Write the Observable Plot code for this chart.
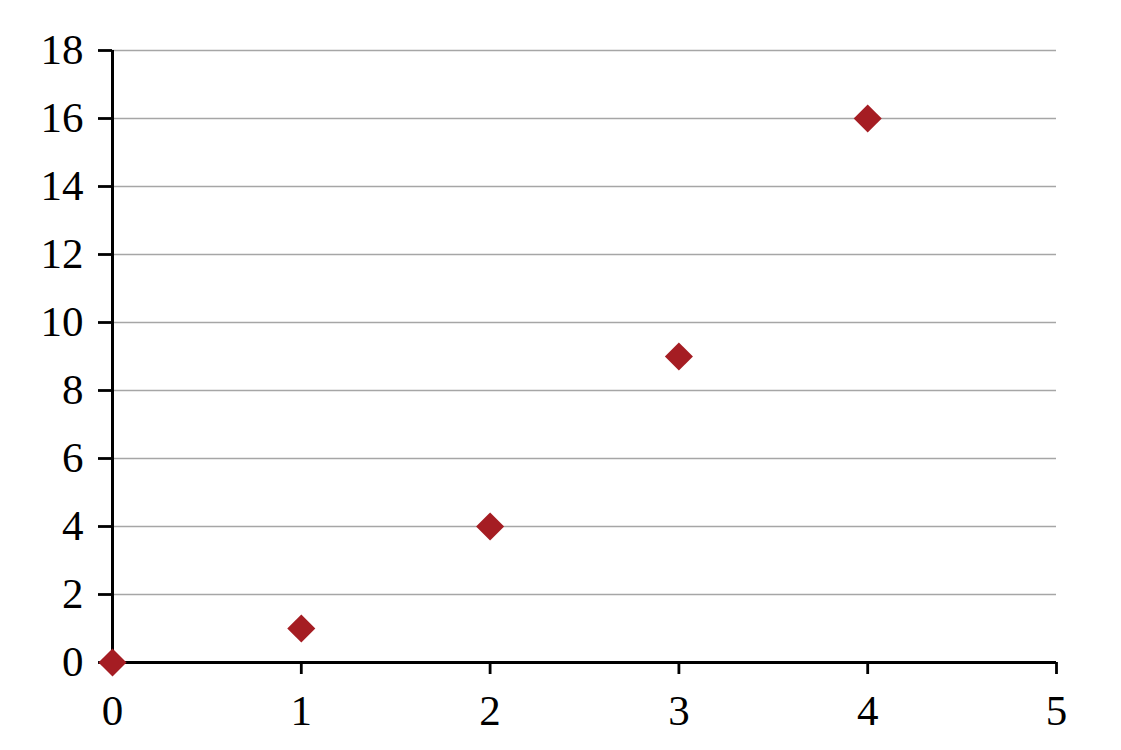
<!DOCTYPE html>
<html><head><meta charset="utf-8">
<script src="https://cdn.jsdelivr.net/npm/d3@7"></script>
<script src="https://cdn.jsdelivr.net/npm/@observablehq/plot@0.6"></script>
<style>body{margin:0;background:#fff}</style>
</head><body><div id="chart"></div>
<script>
const xValues = [0, 1, 2, 3, 4];
const yValues = [0, 1, 4, 9, 16];
const xTicks = [0, 1, 2, 3, 4, 5];
const yTicks = [0, 2, 4, 6, 8, 10, 12, 14, 16, 18];
const data = xValues.map((x, i) => ({x, y: yValues[i]}));

const chart = Plot.plot({
  width: 1121, height: 750,
  marginLeft: 112, marginRight: 65, marginTop: 50, marginBottom: 88,
  style: {fontFamily: "'Liberation Serif', serif", fontSize: "43px", color: "#000", background: "#fff"},
  x: {domain: [0, 5]},
  y: {domain: [0, 18]},
  marks: [
    Plot.gridY(yTicks, {stroke: "#a6a6a6", strokeOpacity: 1, strokeWidth: 1.3}),
    Plot.axisX(xTicks, {tickSize: 12, tickPadding: 20, strokeWidth: 2.8, fontSize: 43, label: null, tickFormat: d => String(d)}),
    Plot.axisY(yTicks, {tickSize: 14, tickPadding: 15, strokeWidth: 2.8, fontSize: 43, label: null, tickFormat: d => String(d)}),
    Plot.ruleY([0], {stroke: "#000", strokeWidth: 3}),
    Plot.ruleX([0], {stroke: "#000", strokeWidth: 3}),
    Plot.dot(data, {x: "x", y: "y", symbol: "square", r: 11.2, rotate: 45, fill: "#a51d23", stroke: "none"})
  ]
});
document.getElementById("chart").append(chart);
</script>
</body></html>
